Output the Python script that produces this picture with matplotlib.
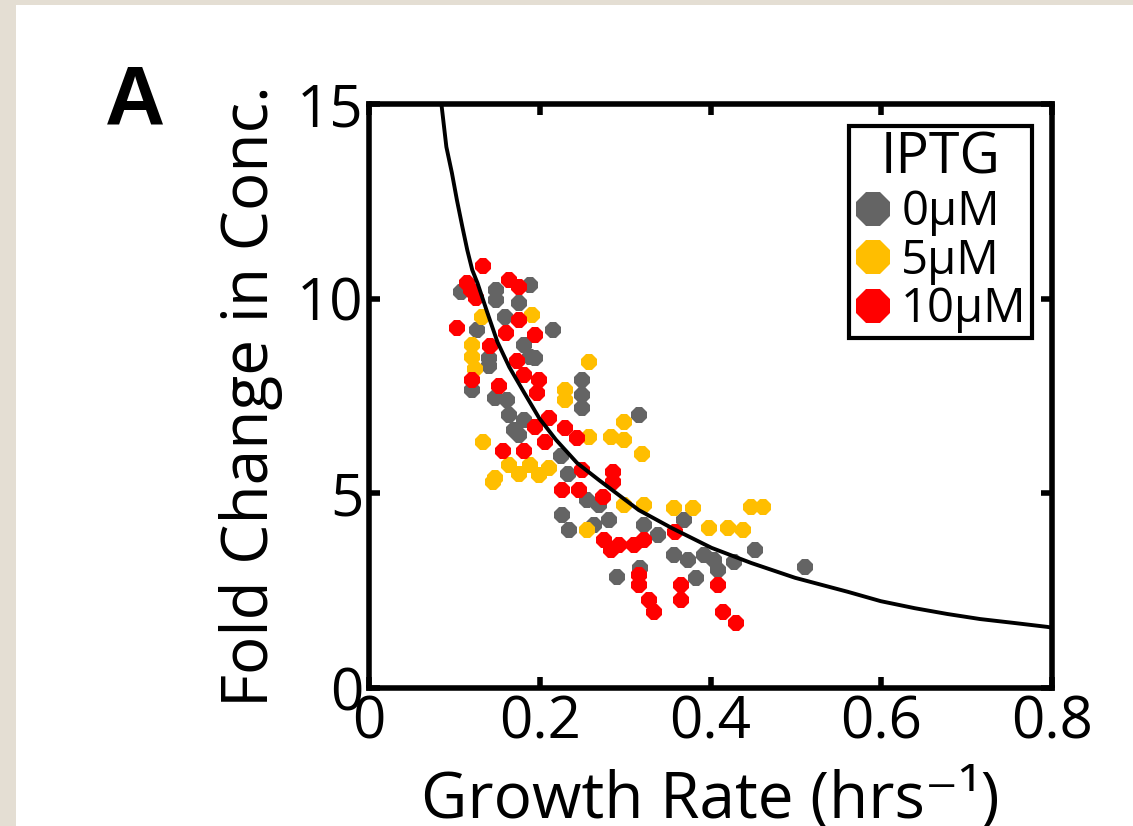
import numpy as np
import matplotlib.pyplot as plt
from matplotlib.patches import Rectangle

plt.rcParams['font.family'] = ['Open Sans', 'DejaVu Sans']

# growth rate (1/hr) and fold change, one pair of lists per IPTG level
gray_x = [0.108, 0.188, 0.149, 0.149, 0.176, 0.159, 0.215, 0.127, 0.182, 0.188,
          0.140, 0.140, 0.194, 0.250, 0.250, 0.250, 0.121, 0.147, 0.162, 0.164,
          0.182, 0.170, 0.176, 0.316, 0.225, 0.233, 0.255, 0.226, 0.234, 0.269,
          0.281, 0.264, 0.290, 0.322, 0.339, 0.369, 0.357, 0.374, 0.392, 0.404,
          0.383, 0.409, 0.427, 0.452, 0.511, 0.318]
gray_y = [10.17, 10.35, 10.22, 9.97, 9.89, 9.53, 9.20, 9.20, 8.81, 8.50,
          8.48, 8.27, 8.48, 7.91, 7.53, 7.19, 7.65, 7.45, 7.40, 7.01,
          6.88, 6.63, 6.50, 7.01, 5.96, 5.50, 4.83, 4.44, 4.06, 4.70,
          4.32, 4.19, 2.85, 4.19, 3.93, 4.32, 3.42, 3.29, 3.42, 3.29,
          2.83, 3.03, 3.24, 3.54, 3.11, 3.08]

yellow_x = [0.191, 0.132, 0.121, 0.121, 0.258, 0.124, 0.229, 0.229, 0.299, 0.283,
            0.299, 0.133, 0.258, 0.320, 0.164, 0.188, 0.211, 0.199, 0.176, 0.147,
            0.145, 0.255, 0.299, 0.322, 0.357, 0.380, 0.398, 0.421, 0.438, 0.447,
            0.462]
yellow_y = [9.58, 9.53, 8.81, 8.50, 8.37, 8.19, 7.65, 7.40, 6.83, 6.45,
            6.37, 6.32, 6.45, 6.01, 5.73, 5.73, 5.65, 5.47, 5.50, 5.39,
            5.29, 4.06, 4.70, 4.70, 4.62, 4.62, 4.11, 4.11, 4.06, 4.65,
            4.65]

red_x = [0.133, 0.115, 0.120, 0.164, 0.176, 0.125, 0.176, 0.103, 0.195, 0.161,
         0.142, 0.173, 0.182, 0.199, 0.121, 0.152, 0.197, 0.211, 0.195, 0.229,
         0.244, 0.206, 0.157, 0.182, 0.250, 0.286, 0.286, 0.226, 0.246, 0.274,
         0.275, 0.293, 0.310, 0.322, 0.283, 0.316, 0.316, 0.328, 0.334, 0.366,
         0.366, 0.358, 0.409, 0.415, 0.430]
red_y = [10.84, 10.40, 10.22, 10.48, 10.30, 10.02, 9.45, 9.25, 9.07, 9.12,
         8.78, 8.40, 8.04, 7.91, 7.91, 7.76, 7.58, 6.93, 6.70, 6.68,
         6.42, 6.32, 6.09, 6.09, 5.60, 5.55, 5.29, 5.09, 5.09, 4.91,
         3.80, 3.67, 3.67, 3.80, 3.54, 2.90, 2.65, 2.26, 1.95, 2.65,
         2.26, 4.01, 2.65, 1.95, 1.67]

# fitted curve
fit_x = [0.0848, 0.0906, 0.0971, 0.1030, 0.1093, 0.1151, 0.1209, 0.1271, 0.1388,
         0.1504, 0.1644, 0.1819, 0.1994, 0.2192, 0.2437, 0.2694, 0.3160, 0.3545,
         0.4012, 0.4478, 0.4991, 0.5609, 0.5994, 0.6391, 0.6776, 0.7160, 0.7557,
         0.7942, 0.8000]
fit_y = [15.00, 13.90, 13.23, 12.53, 11.85, 11.25, 10.74, 10.40, 9.63,
         8.89, 8.24, 7.58, 6.93, 6.37, 5.78, 5.34, 4.57, 4.11,
         3.60, 3.21, 2.83, 2.47, 2.23, 2.05, 1.90, 1.77, 1.67,
         1.57, 1.55]

labels = ['0\u03bcM', '5\u03bcM', '10\u03bcM']
colors = ['#646464', '#FFBE00', '#FF0000']

fig = plt.figure(figsize=(11.33, 8.26), dpi=100, facecolor='#E4DED3')
# white panel inside the beige margin
fig.patches.append(Rectangle((16/1133, 0), 1, (826-5)/826, transform=fig.transFigure,
                             facecolor='white', edgecolor='none', zorder=-10))

ax = fig.add_axes([0.3257, 0.1671, 0.6028, 0.7069])
for xs, ys, c, lab in zip([gray_x, yellow_x, red_x], [gray_y, yellow_y, red_y], colors, labels):
    ax.plot(xs, ys, linestyle='none', marker='8', markersize=13, color=c,
            markeredgewidth=0, label=lab, zorder=2)
ax.plot(fit_x, fit_y, color='black', linewidth=2.8, zorder=3)

ax.set_xlim(0, 0.8)
ax.set_ylim(0, 15)
ax.set_xticks([0, 0.2, 0.4, 0.6, 0.8])
ax.set_xticklabels(['0', '0.2', '0.4', '0.6', '0.8'])
ax.set_yticks([0, 5, 10, 15])
ax.tick_params(direction='in', length=8, width=4, labelsize=42, pad=4,
               top=True, right=True)
for s in ax.spines.values():
    s.set_linewidth(4)

ax.set_xlabel('Growth Rate (hrs\u207b\u00b9)', fontsize=46, labelpad=12)
ax.set_ylabel('Fold Change in Conc.', fontsize=46, labelpad=10)

leg = ax.legend(title='IPTG', loc='upper right', bbox_to_anchor=(0.97, 0.962),
                fontsize=34, title_fontsize=40, markerscale=2.0, handlelength=0.8,
                handletextpad=0.2, labelspacing=0.02, borderpad=0.1,
                fancybox=False, framealpha=1, borderaxespad=0)
leg.get_frame().set_edgecolor('black')
leg.get_frame().set_linewidth(3)

fig.text(105/1133, 1 - 125/826, 'A', fontsize=60, fontweight='bold',
         family='Liberation Sans')

fig.savefig('out.png', dpi=100, facecolor=fig.get_facecolor())
